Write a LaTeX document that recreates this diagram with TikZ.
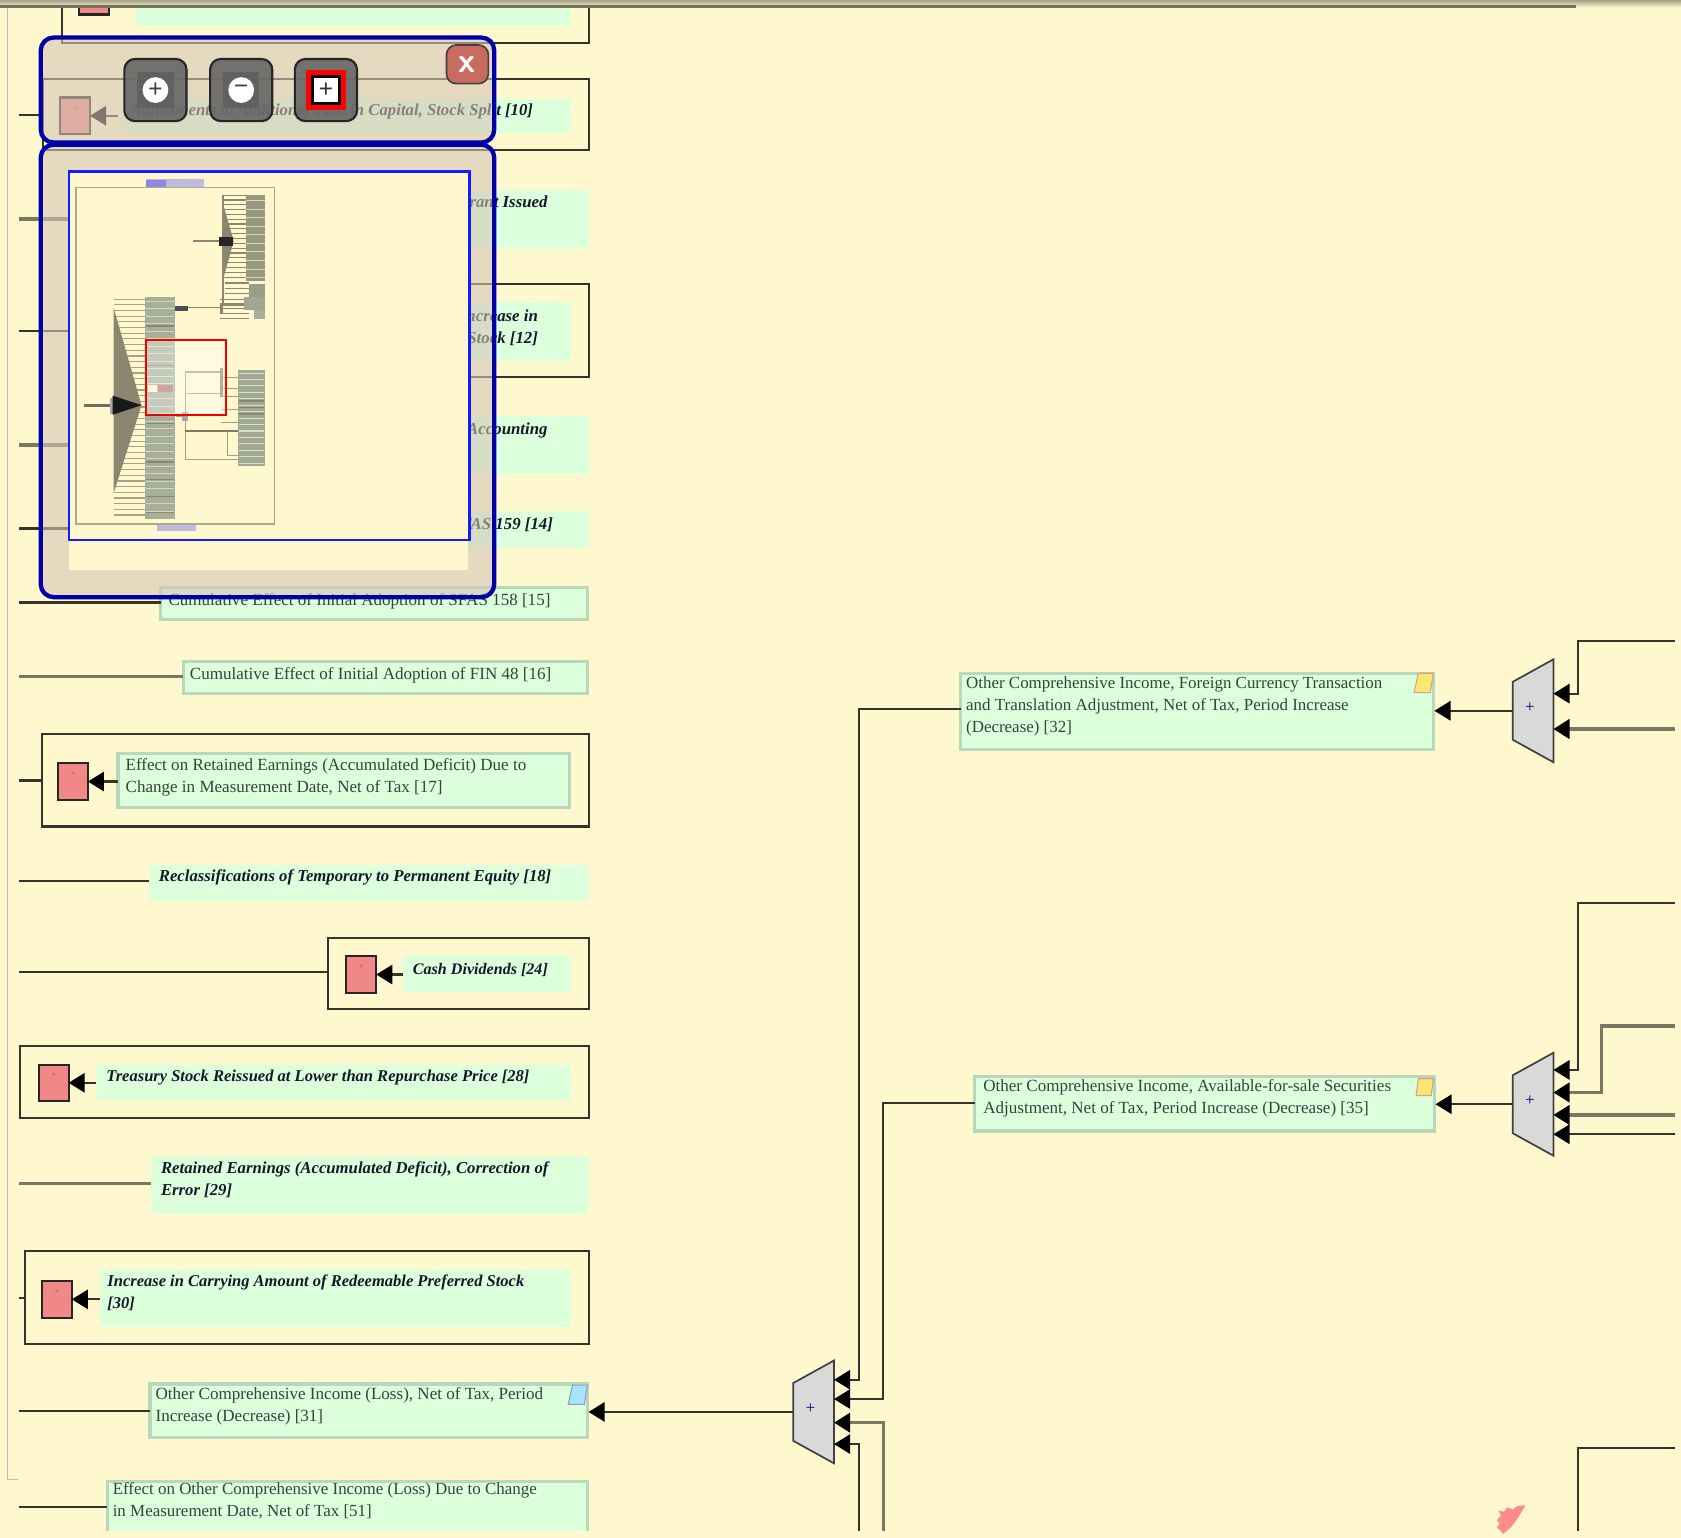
\documentclass[tikz,border=0pt]{standalone}
\usepackage{fontspec}
\setmainfont{Liberation Serif}
\usetikzlibrary{arrows.meta}
\definecolor{bgc}{HTML}{FFF8CF}
\definecolor{grn}{HTML}{DCFFDC}
\definecolor{grnb}{HTML}{B8D8BC}
\definecolor{lnc}{HTML}{35332A}
\definecolor{lnt}{HTML}{7C7760}
\definecolor{redb}{HTML}{F08888}
\definecolor{panelc}{HTML}{D5C6B6}
\definecolor{pblue}{HTML}{0000A8}
\definecolor{oliv}{HTML}{8C8670}
\definecolor{sage}{HTML}{A8AE98}
\definecolor{txtc}{HTML}{34443C}
\definecolor{btxc}{HTML}{141828}
\tikzset{
  x=1pt,y=-1pt,
  sized/.style={inner sep=0pt,outer sep=0pt},
  frame/.style={sized,draw=lnc,line width=2pt,fill=bgc},
  gplain/.style={sized,fill=grn},
  gbord/.style={sized,fill=grn,draw=grnb,line width=3pt},
  redn/.style={sized,fill=redb,draw=black!85,line width=2pt},
  conn/.style={draw=lnc,line width=2pt},
  connt/.style={draw=lnt,line width=3.4pt},
  arr/.style={draw=lnc,line width=2pt,-{Triangle[length=15pt,width=18pt,color=black]}},
  arrt/.style={draw=lnt,line width=3pt,-{Triangle[length=15pt,width=18pt,color=black]}},
  txt/.style={inner sep=0pt,anchor=north west,align=left,text=txtc,font=\fontsize{15.9}{20.5}\selectfont},
  btxt/.style={inner sep=0pt,anchor=north west,align=left,text=btxc,font=\fontsize{15.6}{21}\selectfont\bfseries\itshape},
  btxs/.style={btxt,font=\fontsize{15.4}{20.5}\selectfont\bfseries\itshape},
  rtxt/.style={inner sep=0pt,anchor=north east,align=right,text=btxc,font=\fontsize{15.7}{20}\selectfont\bfseries\itshape},
  muxn/.style={sized,minimum width=38pt,minimum height=96pt},
  muxs/.style={fill=black!15,draw=black!75,line width=1.6pt,line join=miter},
  panel/.style={sized,fill=panelc,fill opacity=.6,draw=pblue,draw opacity=1,line width=4pt,rounded corners=12pt},
  btn/.style={sized,fill=black!60,fill opacity=.9,draw=black!85,draw opacity=1,line width=2pt,rounded corners=10pt,minimum width=58pt,minimum height=58pt},
  btni/.style={sized,fill=black!62,minimum width=34pt,minimum height=34pt},
  btnw/.style={sized,circle,fill=white,minimum size=24pt,font=\fontsize{24}{24}\selectfont\bfseries,text=black!75},
  note/.style={line width=1pt},
  thumbl/.style={draw=oliv,line width=1.1pt},
}
\newcommand\rbox[6][]{\node[#1,minimum width={(#5-#3)*1pt},minimum height={(#6-#4)*1pt}] (#2) at ({(#3+#5)/2},{(#4+#6)/2}) {};}
\newcommand\redbox[3]{\node[redn,minimum width=28pt,minimum height=34pt] (#1) at (#2,#3) {};
  \fill[black!30!red!55] ([yshift=-9pt]#1.north) circle (1.8pt);}
\newcommand\muxbox[3]{\node[muxn] (#1) at (#2,#3) {};
  \draw[muxs] (#1.north east) -- (#1.south east) -- ([yshift=21pt]#1.south west) -- ([yshift=-21pt]#1.north west) -- cycle;
  \node[inner sep=0pt,text=black!50!blue,font=\fontsize{16}{16}\selectfont] (#1p) at ([xshift=-3pt,yshift=3pt]#1.center) {+};}
\newcommand\lconn[3]{\draw[#1] (#2) -- (#2 -| #3.west);}
\begin{document}
\begin{tikzpicture}
\useasboundingbox (0,0) rectangle (1568,1434);
\clip (-5,-5) rectangle (1575,1440);
\fill[bgc] (-5,-5) rectangle (1575,1440);
% left page line
\draw[black!20!blue!25!bgc,line width=1.5pt] (7,6) -- (7,1380) -- (17,1380);

% framed rows
\rbox[frame]{b9}{58}{-10}{549}{40}
\rbox[frame]{b10}{40}{74}{549}{140}
\rbox[frame]{b12}{200}{265}{549}{352}
\rbox[frame]{b17}{39}{685}{549}{771}
\rbox[frame]{b24}{306}{875}{549}{941}
\rbox[frame]{b28}{19}{976}{549}{1043}
\rbox[frame]{b30}{23}{1167}{549}{1254}

% green nodes
\rbox[gplain]{g9}{127}{-10}{533}{24}
\rbox[gplain]{g10}{113}{92}{533}{124}
\rbox[gplain]{g11}{200}{177}{549}{231}
\rbox[gplain]{g12}{210}{282}{533}{337}
\rbox[gplain]{g13}{200}{388}{549}{442}
\rbox[gplain]{g14}{200}{477}{549}{511}
\rbox[gbord]{g15}{150}{548}{548}{578}
\rbox[gbord]{g16}{171}{617}{548}{647}
\rbox[gbord]{g17}{110}{703}{531}{753}
\rbox[gplain]{g18}{139}{807}{549}{840}
\rbox[gplain]{g24}{376}{891}{533}{925}
\rbox[gplain]{g28}{90}{993}{533}{1026}
\rbox[gplain]{g29}{141}{1078}{549}{1132}
\rbox[gplain]{g30}{93}{1184}{533}{1238}
\rbox[gbord]{g31}{140}{1291}{548}{1341}
\rbox[gbord]{g51}{100}{1382}{548}{1450}
\rbox[gbord]{g32}{896}{628}{1337}{699}
\rbox[gbord]{g35}{909}{1004}{1338}{1055}

% red nodes
\node[redn,minimum width=28pt,minimum height=11pt] (r9) at (88,8) {};
\redbox{r10}{70}{108}
\redbox{r17}{68}{729}
\redbox{r24}{337}{909}
\redbox{r28}{50}{1010}
\redbox{r30}{53}{1212}

% notes
\draw[note,fill=blue!30!cyan!35,draw=blue!35!black!40] (534,1292) -- (548,1292) -- (545,1310) -- (530,1310) -- cycle;
\draw[note,fill=orange!35!yellow!55,draw=orange!60!black!50] (1323,628) -- (1337,628) -- (1334,646) -- (1319,646) -- cycle;
\draw[note,fill=orange!35!yellow!55,draw=orange!60!black!50] (1323,1006) -- (1337,1006) -- (1335,1022) -- (1321,1022) -- cycle;

% texts
\node[btxt] (t10) at (122,97) {Adjustments to Additional Paid in Capital, Stock Split [10]};
\node[rtxt] (t11) at (511,182) {Warrant Issued};
\node[rtxt] (t12) at (502,289) {Increase in\\Stock [12]};
\node[rtxt] (t13) at (511,394) {Accounting};
\node[rtxt] (t14) at (516,483) {SFAS 159 [14]};
\node[txt] (t15) at (157,553) {Cumulative Effect of Initial Adoption of SFAS 158 [15]};
\node[txt] (t16) at (177,622) {Cumulative Effect of Initial Adoption of FIN 48 [16]};
\node[txt] (t17) at (117,707) {Effect on Retained Earnings (Accumulated Deficit) Due to\\Change in Measurement Date, Net of Tax [17]};
\node[btxt] (t18) at (148,811) {Reclassifications of Temporary to Permanent Equity [18]};
\node[btxs,font=\fontsize{15}{20}\selectfont\bfseries\itshape] (t24) at (385,898) {Cash Dividends [24]};
\node[btxs] (t28) at (99,998) {Treasury Stock Reissued at Lower than Repurchase Price [28]};
\node[btxt] (t29) at (150,1083) {Retained Earnings (Accumulated Deficit), Correction of\\Error [29]};
\node[btxs] (t30) at (100,1189) {Increase in Carrying Amount of Redeemable Preferred Stock\\{}[30]};
\node[txt] (t31) at (145,1294) {Other Comprehensive Income (Loss), Net of Tax, Period\\Increase (Decrease) [31]};
\node[txt,font=\fontsize{15.8}{20.5}\selectfont] (t51) at (105,1383) {Effect on Other Comprehensive Income (Loss) Due to Change\\in Measurement Date, Net of Tax [51]};
\node[txt,font=\fontsize{15.8}{20.5}\selectfont] (t32) at (901,631) {Other Comprehensive Income, Foreign Currency Transaction\\and Translation Adjustment, Net of Tax, Period Increase\\(Decrease) [32]};
\node[txt] (t35) at (917,1007) {Other Comprehensive Income, Available-for-sale Securities\\Adjustment, Net of Tax, Period Increase (Decrease) [35]};

% free ends
\coordinate (l10) at (18,107);
\coordinate (l11) at (18,204);
\coordinate (l12) at (18,309);
\coordinate (l13) at (18,415);
\coordinate (l14) at (18,493);
\coordinate (l15) at (18,562);
\coordinate (l16) at (18,631);
\coordinate (l17) at (18,728);
\coordinate (l18) at (18,822);
\coordinate (l24) at (18,907);
\coordinate (l29) at (18,1104);
\coordinate (l30) at (18,1211);
\coordinate (l31) at (18,1316);
\coordinate (l51) at (18,1406);

\lconn{conn}{l10}{b10}
\lconn{connt}{l11}{g11}
\lconn{conn}{l12}{b12}
\lconn{connt}{l13}{g13}
\lconn{conn}{l14}{g14}
\lconn{conn}{l15}{g15}
\lconn{connt}{l16}{g16}
\lconn{conn}{l17}{b17}
\lconn{conn}{l18}{g18}
\lconn{conn}{l24}{b24}
\lconn{connt}{l29}{g29}
\lconn{conn}{l30}{b30}
\lconn{conn}{l31}{g31}
\lconn{conn}{l51}{g51}

\draw[arr] ([xshift=-3pt]r10.east -| g10.west) -- (r10.east);
\draw[arr] (g17.west |- r17.east) -- (r17.east);
\draw[arr] (g24.west |- r24.east) -- (r24.east);
\draw[arr] (g28.west |- r28.east) -- (r28.east);
\draw[arr] (g30.west |- r30.east) -- (r30.east);

% adders
\muxbox{m1}{759}{1317}
\muxbox{m2}{1430}{663}
\muxbox{m3}{1430}{1030}

\draw[arr] (m1.west) -- ([xshift=1pt]m1.west -| g31.east);
\draw[arr] (m2.west) -- ([xshift=1pt]m2.west -| g32.east);
\draw[arr] (m3.west) -- ([xshift=1pt]m3.west -| g35.east);

\coordinate (i11) at (778,1287);
\coordinate (i12) at (778,1305);
\coordinate (i13) at (778,1327);
\coordinate (i14) at (778,1347);
\coordinate (e13) at (824,1440);
\coordinate (e14) at (801,1440);
\coordinate (k32) at (801,661);
\coordinate (k35) at (824,1029);
\draw[arr] (g32.west |- k32) -- (k32) |- (i11);
\draw[arr] (g35.west |- k35) -- (k35) |- (i12);
\draw[arrt] (e13) |- (i13);
\draw[arr] (e14) |- (i14);

\coordinate (i21) at (1449,647);
\coordinate (i22) at (1449,680);
\coordinate (f21) at (1562,598);
\coordinate (f22) at (1562,680);
\coordinate (k21) at (1472,598);
\draw[arr] (f21) -- (k21) |- (i21);
\draw[arrt] (f22) -- (i22);

\coordinate (i31) at (1449,998);
\coordinate (i32) at (1449,1019);
\coordinate (i33) at (1449,1040);
\coordinate (i34) at (1449,1058);
\coordinate (f31) at (1562,842);
\coordinate (f32) at (1562,957);
\coordinate (f33) at (1562,1040);
\coordinate (f34) at (1562,1058);
\coordinate (k31) at (1472,842);
\coordinate (k32b) at (1494,957);
\draw[arr] (f31) -- (k31) |- (i31);
\draw[arrt] (f32) -- (k32b) |- (i32);
\draw[arrt] (f33) -- (i33);
\draw[arr] (f34) -- (i34);

\coordinate (f41) at (1562,1351);
\coordinate (e41) at (1472,1440);
\coordinate (k41) at (1472,1351);
\draw[conn] (f41) -- (k41) -- (e41);

% bottom edge of the view
\fill[bgc] (-5,1428) rectangle (1575,1445);

% pink scribble
\fill[red!45!white] (1398,1409) -- (1403,1410) -- (1406,1406) -- (1411,1408) -- (1415,1405) -- (1423,1404) -- (1417,1414) -- (1410,1424) -- (1402,1431) -- (1399,1427) -- (1396,1425) -- (1399,1421) -- (1396,1418) -- (1400,1414) -- cycle;

% top edge
\shade[top color=black!35!bgc,bottom color=bgc] (-5,0) rectangle (1575,7);
\draw[black!55!bgc,line width=2pt] (0,6) -- (1470,6);

% navigation panels
\rbox[panel]{p1}{38}{35}{461}{133}
\rbox[panel]{p2}{38}{135}{461}{557}

% buttons
\node[btn] (bt1) at (145,84) {};
\node[btni] (bi1) at (145,84) {};
\node[btnw] (bw1) at (145,84) {\raisebox{.5pt}{+}};
\node[btn] (bt2) at (225,84) {};
\node[btni] (bi2) at (225,84) {};
\node[btnw] (bw2) at (225,84) {\raisebox{.5pt}{\textminus}};
\node[btn] (bt3) at (304,84) {};
\node[sized,fill=red,minimum width=38pt,minimum height=38pt] (bi3) at (304,84) {};
\node[sized,fill=white,draw=black,line width=2.5pt,minimum width=25pt,minimum height=25pt,font=\fontsize{24}{24}\selectfont\bfseries,text=black!80] (bw3) at (304,84) {+};
\definecolor{closec}{HTML}{C86C60}
\node[sized,fill=closec,draw=black!75,line width=1.5pt,rounded corners=9pt,minimum width=39pt,minimum height=36pt,font=\fontsize{32}{32}\sffamily\bfseries,text=white] (bx) at (436,60) {x};

% overview
\fill[bgc] (64,504) rectangle (437,532);
\rbox[sized,fill=bgc,draw=blue!90!white,line width=2pt]{ov}{64}{160}{438}{504}
\fill[blue!25!bgc] (136,167) rectangle (190,174);
\fill[blue!45!bgc] (136,168) rectangle (155,174);
\fill[blue!25!bgc] (146,489) rectangle (183,495);
\draw[oliv!70!bgc,line width=1.6pt] (71,175) rectangle (256,489);

% overview: upper tree
\foreach \yy in {182,186.5,...,261} \draw[thumbl] (208,\yy) -- (232,\yy);
\fill[oliv] (208,190) -- (218,225) -- (208,261) -- cycle;
\draw[thumbl] (208,182) -- (208,285) -- (232,285);
\fill[sage!45!oliv] (229,182) rectangle (247,262);
\foreach \yy in {187,195,...,260} \draw[bgc!60!sage,line width=1pt] (229,\yy) -- (247,\yy);
\foreach \yy in {264,269,...,285} \draw[thumbl] (210,\yy) -- (232,\yy);
\fill[sage!60!oliv] (232,265) rectangle (247,285);
\draw[oliv,line width=2pt] (180,225) -- (205,225);
\fill[black!85] (204,221) rectangle (217,229);
% overview: link tree
\foreach \yy in {279,283.5,...,298} \draw[thumbl] (205,\yy) -- (232,\yy);
\fill[sage!80!oliv] (228,277) rectangle (247,289);
\fill[sage] (237,289) rectangle (247,298);
\draw[oliv,line width=1.5pt] (163,287) -- (205,287);
\fill[black!70] (163,285) rectangle (175,290);
\fill[oliv] (205,284) rectangle (208,292);
% overview: left tree
\foreach \yy in {279,284.3,...,483} \draw[thumbl,oliv!75!bgc] (106,\yy) -- (136,\yy);
\fill[oliv] (106,287) -- (132,378) -- (106,460) -- cycle;
\fill[sage] (135,277) rectangle (163,484);
\foreach \yy in {281,288,...,483} \draw[grn!60!sage,line width=1pt] (136,\yy) -- (162,\yy);
\foreach \yy in {304,341,395,431,447,463,478} \draw[oliv,line width=1.3pt] (136,\yy) -- (162,\yy);
\fill[bgc] (138,359) rectangle (146,366);
\fill[sage!60!red!80!black!80] (147,359) rectangle (161,366);
\draw[oliv!80!black,line width=2.5pt] (78,378) -- (103,378);
\fill[black!35] (103,371) rectangle (106,386);
\fill[black!90] (105,369) -- (132,378) -- (105,387) -- cycle;
% overview: lower tree
\fill[sage!85!oliv] (222,345) rectangle (247,435);
\foreach \yy in {348,354,...,434} \draw[grn!70!sage,line width=1pt] (223,\yy) -- (246,\yy);
\foreach \yy in {374,380,...,390} \draw[oliv,line width=1.5pt] (223,\yy) -- (246,\yy);
\draw[oliv!80!bgc,line width=1pt] (173,347) -- (173,429);
\draw[oliv!80!bgc,line width=1pt] (173,347) -- (206,347) (173,367) -- (206,367) (173,429) -- (206,429);
\draw[oliv!90!black,line width=1.6pt] (173,402) -- (222,402);
\draw[oliv!80!bgc,line width=1pt] (164,388) -- (173,388);
\draw[oliv!80!bgc,line width=1pt] (206,352) -- (222,352) (206,362) -- (222,362) (206,370) -- (222,370) (206,394) -- (222,394) (206,382) -- (222,382) (212,402) -- (212,425) -- (222,425) (206,429) -- (222,429);
\fill[oliv] (205,343) rectangle (208,370);
\fill[black!35] (170,384) rectangle (175,393);
% viewport
\fill[white,opacity=.35] (136,317) rectangle (211,387);
\draw[red!95!black,line width=2pt] (136,317) rectangle (211,387);
\end{tikzpicture}
\end{document}
